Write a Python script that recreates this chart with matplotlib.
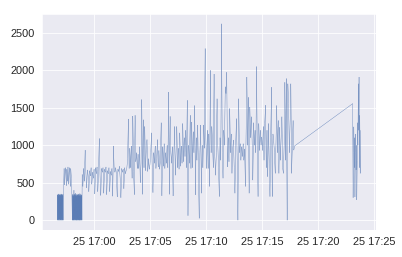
import numpy as np
import pandas as pd
import matplotlib
matplotlib.use("Agg")
import matplotlib.pyplot as plt
import matplotlib.dates as mdates
from matplotlib.collections import LineCollection
import seaborn as sns

sns.set_style("darkgrid")
plt.rcParams['font.family'] = ['Liberation Sans', 'DejaVu Sans']

# first burst, one reading per second
block1_start = "2019-03-25 16:56:40"
block1 = [0, 340, 5, 335, 0, 345, 10, 330, 0, 350, 0, 340, 15, 335, 0, 345, 0,
          330, 5, 340, 0, 350, 0, 335, 10, 345, 0, 340, 0, 330, 5, 345, 0]

# short stretch between the bursts, every 3 s
gap_start = "2019-03-25 16:57:14"
gap_vals = [330, 690, 470, 650, 700, 460, 680, 520, 710, 480, 640, 700, 450, 690, 560, 340]

# second burst, one reading per second
block2_start = "2019-03-25 16:58:01"
block2 = [0, 330, 0, 345, 5, 320, 0, 340, 0, 400, 0, 335, 10, 350, 0, 325, 0, 340,
          5, 360, 0, 330, 0, 345, 0, 320, 10, 340, 0, 335, 0, 350, 0, 330, 5, 345,
          0, 325, 0, 340, 0, 355, 10, 330, 0, 345, 0, 320, 0, 340, 5, 335, 0]

# main run, every 4 s (one row = one minute)
main_start = "2019-03-25 16:58:54"
main_vals = [
    610, 450, 690, 520, 935, 640, 430, 670, 600, 380, 660, 590, 700, 480, 640,
    560, 680, 350, 700, 620, 710, 380, 650, 1090, 600, 330, 690, 640, 700, 360,
    680, 640, 710, 340, 660, 620, 700, 380, 650, 600, 690, 320, 990, 670, 640,
    700, 610, 310, 680, 650, 720, 560, 300, 690, 640, 680, 420, 700, 620, 660,
    700, 820, 1350, 690, 960, 700, 990, 560, 1390, 650, 340, 1400, 780, 900, 690,
    880, 690, 980, 500, 760, 1610, 345, 1340, 700, 1250, 660, 940, 1075, 650, 820,
    680, 740, 900, 1165, 700, 368, 900, 760, 990, 690, 820, 1075, 710, 930, 680,
    800, 1300, 325, 980, 720, 1020, 690, 900, 760, 1000, 700, 1710, 345, 1385, 900,
    760, 980, 323, 850, 1250, 600, 900, 1250, 700, 960, 680, 1165, 720, 990, 760,
    1290, 780, 1100, 850, 1200, 700, 1600, 60, 1000, 760, 1400, 690, 1310, 700, 1180,
    900, 1530, 337, 1100, 800, 1270, 700, 25, 900, 1270, 360, 1000, 700, 1270, 960,
    2290, 1100, 690, 1200, 690, 1150, 450, 2000, 900, 1250, 1000, 700, 1950, 850, 600,
    900, 1620, 1000, 700, 315, 1100, 800, 2620, 900, 560, 1200, 1000, 1780, 1690, 1975,
    710, 1100, 780, 1490, 900, 1150, 625, 950, 1070, 700, 360, 1000, 1355, 800, 0,
    1620, 900, 1020, 800, 980, 850, 1020, 800, 950, 450, 1200, 1910, 1000, 1640, 360,
    1510, 1100, 1380, 1070, 535, 1300, 1000, 1200, 900, 2050, 900, 315, 1290, 930, 1200,
    1000, 1110, 930, 1250, 800, 1290, 1535, 700, 1200, 580, 1290, 760, 315, 1100, 1775,
    315, 1150, 1060, 900, 625, 1000, 1530, 900, 1330, 625, 1240, 800, 1100, 1380, 700,
    625, 1000, 1840, 800, 1890, 0, 1820, 1555, 900, 1300, 1820, 625, 1000, 1330, 935, 990,
]

# last burst after the pause, every 2 s
tail_start = "2019-03-25 17:23:06"
tail_vals = [1555, 300, 900, 1245, 700, 1100, 310, 900, 1150, 670, 1000, 270, 800,
             1300, 1000, 1820, 1200, 1910, 700, 1400, 625, 1200]

parts = [(block1_start, "1s", block1), (gap_start, "3s", gap_vals),
         (block2_start, "1s", block2), (main_start, "4s", main_vals),
         (tail_start, "2s", tail_vals)]
series = pd.concat([pd.Series(v, index=pd.date_range(s, periods=len(v), freq=f))
                    for s, f, v in parts])

# each step drawn as its own segment so dense bursts fill in solid
xy = np.column_stack([mdates.date2num(series.index), series.values])
segs = np.stack([xy[:-1], xy[1:]], axis=1)

fig = plt.figure(figsize=(402 / 72, 257 / 72), dpi=72)
ax = fig.add_axes([0.1045, 0.1051, 0.8301, 0.8404])
ax.add_collection(LineCollection(segs, colors="#4C72B0", linewidths=0.35))
ax.autoscale_view()
ax.xaxis.set_major_locator(mdates.MinuteLocator(byminute=range(0, 60, 5)))
ax.xaxis.set_major_formatter(mdates.DateFormatter("%d %H:%M"))
ax.tick_params(labelsize=11)
fig.savefig("out.png", dpi=72)
